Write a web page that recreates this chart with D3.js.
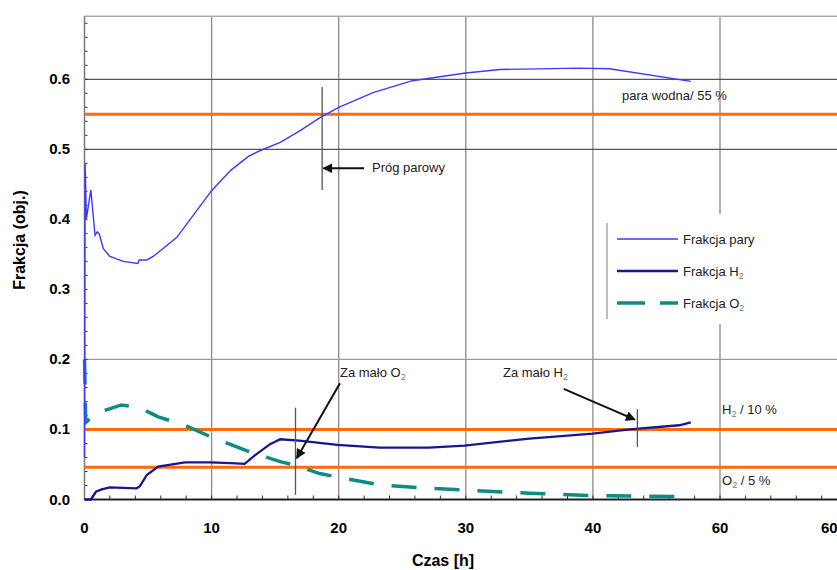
<!DOCTYPE html>
<html>
<head>
<meta charset="utf-8">
<script src="https://cdn.jsdelivr.net/npm/d3@7/dist/d3.min.js"></script>
<style>
  body { margin: 0; background: #fff; }
  svg { display: block; font-family: "Liberation Sans", Arial, sans-serif; }
</style>
</head>
<body>
<svg width="837" height="570"></svg>
<script>
// steam fraction (Frakcja pary), time in h
var steamT = [0, 0.05, 0.15, 0.5, 0.83, 1.0, 1.17, 1.48, 2.0, 3.05, 4.2, 4.3, 4.9, 5.4, 7.25, 10.0, 11.5, 12.9, 13.8, 15.4, 17.0, 18.5, 20.0, 22.7, 25.8, 30.0, 32.7, 38.9, 41.3, 47.7];
var steamV = [0.06, 0.48, 0.401, 0.442, 0.377, 0.382, 0.379, 0.358, 0.347, 0.340, 0.337, 0.342, 0.342, 0.347, 0.374, 0.441, 0.47, 0.49, 0.498, 0.51, 0.527, 0.545, 0.560, 0.581, 0.598, 0.609, 0.614, 0.616, 0.615, 0.597];

// hydrogen fraction (Frakcja H2)
var h2T = [0, 0.5, 0.9, 1.35, 2.0, 4.1, 4.36, 4.9, 5.8, 7.9, 9.9, 11.5, 12.6, 13.4, 14.6, 15.4, 16.9, 19.9, 23.2, 27.1, 29.9, 35.0, 40.0, 42.9, 46.8, 47.7];
var h2V = [0, 0, 0.011, 0.0145, 0.0174, 0.016, 0.019, 0.035, 0.047, 0.053, 0.053, 0.052, 0.051, 0.063, 0.079, 0.086, 0.084, 0.078, 0.074, 0.074, 0.077, 0.087, 0.094, 0.100, 0.106, 0.110];

// oxygen fraction (Frakcja O2)
var o2T = [0, 0.05, 0.1, 0.9, 2.9, 4.35, 5.8, 7.9, 10.0, 13.0, 15.4, 16.6, 18.5, 19.9, 23.2, 27.1, 29.9, 35.0, 40.0, 47.0];
var o2V = [0.2, 0.16, 0.11, 0.123, 0.135, 0.131, 0.118, 0.106, 0.089, 0.068, 0.054, 0.049, 0.037, 0.032, 0.021, 0.016, 0.0135, 0.009, 0.0055, 0.004];

// limit lines (orange)
var limitVals = [0.55, 0.1, 0.046];

// axis ticks
var xTickVals = [0, 10, 20, 30, 40, 50, 58.6];
var xTickLabels = ["0", "10", "20", "30", "40", "60", "60"];
var yTickVals = [0, 0.1, 0.2, 0.3, 0.4, 0.5, 0.6];
var yTickLabels = ["0.0", "0.1", "0.2", "0.3", "0.4", "0.5", "0.6"];
var vGridVals = [10, 20, 30, 40, 50];
var hGridVals = [0.2, 0.5, 0.6];

var svg = d3.select("svg");

var x = d3.scaleLinear().domain([0, 50]).range([84.5, 720]);
var y = d3.scaleLinear().domain([0, 0.6]).range([499.5, 79.3]);
var yTop = y(0.69);

function zip(ts, vs) { return ts.map(function(t, i) { return [t, vs[i]]; }); }
var line = d3.line().x(function(d) { return x(d[0]); }).y(function(d) { return y(d[1]); });

// grid
svg.append("g").selectAll("line").data(vGridVals).enter().append("line")
  .attr("x1", function(d) { return x(d); }).attr("x2", function(d) { return x(d); })
  .attr("y1", yTop).attr("y2", y(0))
  .attr("stroke", "#8a8a8a").attr("stroke-width", 1.3);

svg.append("g").selectAll("line").data(hGridVals).enter().append("line")
  .attr("x1", x(0)).attr("x2", 837)
  .attr("y1", function(d) { return y(d); }).attr("y2", function(d) { return y(d); })
  .attr("stroke", function(d) { return d == 0.2 ? "#9a9a9a" : "#555"; })
  .attr("stroke-width", 1.2);

// top border
svg.append("line").attr("x1", x(0)).attr("x2", 837).attr("y1", yTop).attr("y2", yTop)
  .attr("stroke", "#aaa").attr("stroke-width", 1.3);

// minor ticks
svg.append("g").selectAll("line").data(d3.range(0, 0.69, 0.02)).enter().append("line")
  .attr("x1", x(0)).attr("x2", x(0) + 3)
  .attr("y1", function(d) { return y(d); }).attr("y2", function(d) { return y(d); })
  .attr("stroke", "#333").attr("stroke-width", 1);
svg.append("g").selectAll("line").data(d3.range(0, 60, 2)).enter().append("line")
  .attr("x1", function(d) { return x(d); }).attr("x2", function(d) { return x(d); })
  .attr("y1", y(0)).attr("y2", y(0) - 4)
  .attr("stroke", "#333").attr("stroke-width", 1);

// axes lines
svg.append("line").attr("x1", x(0)).attr("x2", x(0)).attr("y1", yTop).attr("y2", y(0))
  .attr("stroke", "#777").attr("stroke-width", 1.5);
svg.append("line").attr("x1", x(0)).attr("x2", 837).attr("y1", y(0)).attr("y2", y(0))
  .attr("stroke", "#222").attr("stroke-width", 1.8);

// orange limit lines
svg.append("g").selectAll("line").data(limitVals).enter().append("line")
  .attr("x1", x(0)).attr("x2", 837)
  .attr("y1", function(d) { return y(d); }).attr("y2", function(d) { return y(d); })
  .attr("stroke", "#ff6a10").attr("stroke-width", 3);

// series
svg.append("path").datum(zip(o2T, o2V)).attr("d", line)
  .attr("fill", "none").attr("stroke", "#0f8a84").attr("stroke-width", 3.5)
  .attr("stroke-dasharray", "25,18");
svg.append("path").datum(zip(h2T, h2V)).attr("d", line)
  .attr("fill", "none").attr("stroke", "#18188c").attr("stroke-width", 2.3);
svg.append("path").datum(zip(steamT, steamV)).attr("d", line)
  .attr("fill", "none").attr("stroke", "#3a3aff").attr("stroke-width", 1.4);

// tick labels
svg.append("g").selectAll("text").data(yTickVals).enter().append("text")
  .attr("x", 70).attr("y", function(d) { return y(d) + 5; })
  .attr("text-anchor", "end").attr("font-size", 15).attr("font-weight", "bold")
  .text(function(d, i) { return yTickLabels[i]; });
svg.append("g").selectAll("text").data(xTickVals).enter().append("text")
  .attr("x", function(d) { return x(d); }).attr("y", 533)
  .attr("text-anchor", "middle").attr("font-size", 15).attr("font-weight", "bold")
  .text(function(d, i) { return xTickLabels[i]; });

// axis titles
svg.append("text").attr("x", 443).attr("y", 566).attr("text-anchor", "middle")
  .attr("font-size", 16).attr("font-weight", "bold").text("Czas [h]");
svg.append("text").attr("transform", "translate(25,240) rotate(-90)").attr("text-anchor", "middle")
  .attr("font-size", 16).attr("font-weight", "bold").text("Frakcja (obj.)");

// arrow marker
svg.append("defs").append("marker").attr("id", "arr")
  .attr("viewBox", "0 0 10 10").attr("refX", 9).attr("refY", 5)
  .attr("markerWidth", 5).attr("markerHeight", 5).attr("orient", "auto")
  .append("path").attr("d", "M0,0 L10,5 L0,10 z").attr("fill", "#111");

// annotation marker lines (time, from, to)
var marks = [[18.7, 0.442, 0.589], [16.6, 0.0066, 0.131], [43.5, 0.075, 0.129]];
svg.append("g").selectAll("line").data(marks).enter().append("line")
  .attr("x1", function(d) { return x(d[0]); }).attr("x2", function(d) { return x(d[0]); })
  .attr("y1", function(d) { return y(d[1]); }).attr("y2", function(d) { return y(d[2]); })
  .attr("stroke", "#555").attr("stroke-width", 1.3);

// arrows (from t,v to t,v)
var arrows = [[22.0, 0.473, 18.8, 0.473], [20.1, 0.166, 16.7, 0.059], [37.7, 0.158, 43.3, 0.114]];
svg.append("g").selectAll("line").data(arrows).enter().append("line")
  .attr("x1", function(d) { return x(d[0]); }).attr("y1", function(d) { return y(d[1]); })
  .attr("x2", function(d) { return x(d[2]); }).attr("y2", function(d) { return y(d[3]); })
  .attr("stroke", "#111").attr("stroke-width", 2).attr("marker-end", "url(#arr)");

// annotation texts
function label(px, py, main, sub, rest) {
  var t = svg.append("text").attr("x", px).attr("y", py).attr("font-size", 13).attr("fill", "#222");
  t.append("tspan").text(main);
  if (sub) {
    t.append("tspan").attr("font-size", 9).attr("dy", 3).attr("fill", "#777").text(sub);
    if (rest) t.append("tspan").attr("dy", -3).text(rest);
  }
  return t;
}
label(372, 172, "Próg parowy");
label(622, 100, "para wodna/ 55 %");
label(340, 377, "Za mało O", "2");
label(503, 377, "Za mało H", "2");
label(722, 414, "H", "2", " / 10 %");
label(722, 485, "O", "2", " / 5 %");

// legend
var legend = svg.append("g");
legend.append("rect").attr("x", 608).attr("y", 214).attr("width", 200).attr("height", 110).attr("fill", "#fff");
legend.append("line").attr("x1", 607).attr("x2", 607).attr("y1", 223).attr("y2", 319)
  .attr("stroke", "#999").attr("stroke-width", 1.3);
var legItems = [
  { name: "Frakcja pary", color: "#3a3aff", w: 1.4, dash: null, sub: null },
  { name: "Frakcja H", color: "#18188c", w: 2.3, dash: null, sub: "2" },
  { name: "Frakcja O", color: "#0f8a84", w: 3.5, dash: "28,15", sub: "2" }
];
legItems.forEach(function(d, i) {
  var ly = 239 + i * 32;
  legend.append("line").attr("x1", 617).attr("x2", 678).attr("y1", ly).attr("y2", ly)
    .attr("stroke", d.color).attr("stroke-width", d.w).attr("stroke-dasharray", d.dash);
  var t = legend.append("text").attr("x", 683).attr("y", ly + 5).attr("font-size", 13).attr("fill", "#222");
  t.append("tspan").text(d.name);
  if (d.sub) t.append("tspan").attr("font-size", 9).attr("dy", 3).attr("fill", "#777").text(d.sub);
});
</script>
</body>
</html>
